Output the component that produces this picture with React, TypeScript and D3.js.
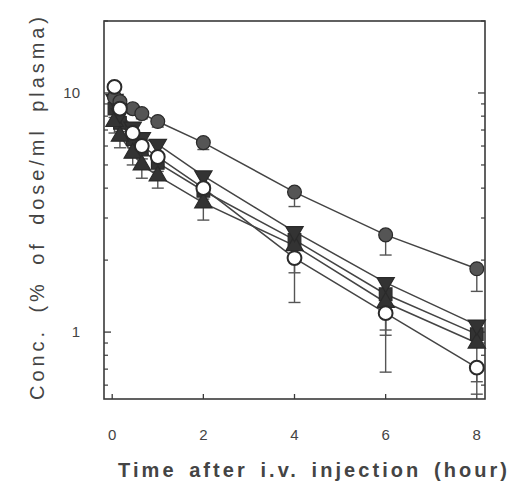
import React from "react";
import * as d3 from "d3";

const times = [0.05, 0.17, 0.45, 0.65, 1, 2, 4, 6, 8];

const filledCircle = [9.6, 9.2, 8.6, 8.2, 7.6, 6.2, 3.85, 2.55, 1.84];
const filledCircleLow = [9.2, 8.8, 8.2, 7.8, 7.2, 5.8, 3.35, 2.1, 1.48];

const openCircle = [10.6, 8.6, 6.8, 6.0, 5.4, 4.0, 2.04, 1.2, 0.71];
const openCircleLow = [10.0, 8.1, 6.3, 5.6, 5.0, 3.7, 1.33, 0.68, 0.55];

const triDown = [9.4, 8.2, 7.2, 6.5, 6.1, 4.5, 2.63, 1.61, 1.07];
const triDownLow = [8.7, 7.6, 6.6, 6.0, 5.6, 4.1, 1.77, 1.02, 0.92];

const squareS = [8.6, 7.5, 6.4, 5.8, 5.1, 3.9, 2.43, 1.44, 0.98];
const squareLow = [7.9, 6.9, 5.9, 5.3, 4.7, 3.6, 2.2, 0.97, 0.88];

const triUp = [7.6, 6.6, 5.6, 5.0, 4.5, 3.47, 2.3, 1.33, 0.9];
const triUpLow = [6.8, 5.9, 5.0, 4.4, 4.0, 2.94, 2.1, 1.2, 0.62];

const xTicks = [0, 2, 4, 6, 8];
const yMajor = [1, 10];
const yMinor = [0.6, 0.7, 0.8, 0.9, 2, 3, 4, 5, 6, 7, 8, 9, 20];

const xTitle = "Time after i.v. injection (hour)";
const yTitle = "Conc. (% of dose/ml plasma)";

const INK = "#3a3a3a";

type Series = {
  vals: number[];
  low: number[];
  shape: "circle" | "triUp" | "triDown" | "square";
  fill: string;
};

export default function App() {
  const W = 519;
  const H = 484;
  const x = d3.scaleLinear().domain([-0.18, 8.18]).range([104, 485]);
  const y = d3.scaleLog().domain([0.525, 20]).range([399, 21]);
  const [x0, x1] = x.range();
  const [y0, y1] = y.range();

  const series: Series[] = [
    { vals: squareS, low: squareLow, shape: "square", fill: "#333" },
    { vals: triUp, low: triUpLow, shape: "triUp", fill: "#333" },
    { vals: triDown, low: triDownLow, shape: "triDown", fill: "#333" },
    { vals: filledCircle, low: filledCircleLow, shape: "circle", fill: "#555" },
    { vals: openCircle, low: openCircleLow, shape: "circle", fill: "#fff" },
  ];

  const line = d3
    .line<number>()
    .x((_, i) => x(times[i]))
    .y((v) => y(v));

  const symPath = (shape: Series["shape"]) => {
    if (shape === "circle") return d3.symbol(d3.symbolCircle, 150)()!;
    if (shape === "square") return d3.symbol(d3.symbolSquare, 160)()!;
    return d3.symbol(d3.symbolTriangle, 130)()!;
  };

  return (
    <svg width={W} height={H} style={{ position: "absolute", left: 0, top: 0 }}>
      <rect x={0} y={0} width={W} height={H} fill="#fff" />
      <rect x={x0} y={y1} width={x1 - x0} height={y0 - y1} fill="none" stroke={INK} strokeWidth={1.6} />
      {xTicks.map((t) => (
        <g key={"xt" + t}>
          <line x1={x(t)} x2={x(t)} y1={y0} y2={y0 - 5} stroke={INK} strokeWidth={1.3} />
          <text
            x={x(t)}
            y={440}
            textAnchor="middle"
            fontFamily="Liberation Sans, Arial, sans-serif"
            fontSize={15}
            fill="#444"
          >
            {t}
          </text>
        </g>
      ))}
      {yMajor.map((v) => (
        <g key={"ym" + v}>
          <line x1={x0} x2={x0 + 7} y1={y(v)} y2={y(v)} stroke={INK} strokeWidth={1.3} />
          <line x1={x1} x2={x1 - 7} y1={y(v)} y2={y(v)} stroke={INK} strokeWidth={1.3} />
          <text
            x={80}
            y={y(v) + 5}
            textAnchor="end"
            fontFamily="Liberation Sans, Arial, sans-serif"
            fontSize={15}
            fill="#444"
          >
            {v}
          </text>
        </g>
      ))}
      {yMinor.map((v) => (
        <g key={"yn" + v}>
          <line x1={x0} x2={x0 + 4} y1={y(v)} y2={y(v)} stroke={INK} strokeWidth={1.2} />
          <line x1={x1} x2={x1 - 4} y1={y(v)} y2={y(v)} stroke={INK} strokeWidth={1.2} />
        </g>
      ))}
      {series.map((s, k) => (
        <path key={"l" + k} d={line(s.vals)!} fill="none" stroke="#444" strokeWidth={1.5} />
      ))}
      {series.map((s, k) =>
        s.vals.map((v, i) => (
          <g key={"e" + k + "-" + i} stroke="#555" strokeWidth={1.4}>
            <line x1={x(times[i])} x2={x(times[i])} y1={y(v)} y2={y(s.low[i])} />
            <line x1={x(times[i]) - 6} x2={x(times[i]) + 6} y1={y(s.low[i])} y2={y(s.low[i])} />
          </g>
        ))
      )}
      {series.map((s, k) =>
        s.vals.map((v, i) => (
          <path
            key={"m" + k + "-" + i}
            d={symPath(s.shape)}
            transform={`translate(${x(times[i])},${y(v)})${s.shape === "triDown" ? " rotate(180)" : ""}`}
            fill={s.fill}
            stroke="#2a2a2a"
            strokeWidth={s.fill === "#fff" ? 2 : 1.2}
          />
        ))
      )}
      <text
        x={118}
        y={477}
        textLength={389}
        lengthAdjust="spacing"
        fontFamily="Liberation Sans, Arial, sans-serif"
        fontSize={20}
        fontWeight="bold"
        wordSpacing={4}
        fill="#444"
      >
        {xTitle}
      </text>
      <text
        transform={`translate(44,${(17 + 400) / 2}) rotate(-90)`}
        textAnchor="middle"
        textLength={383}
        lengthAdjust="spacing"
        fontFamily="Liberation Sans, Arial, sans-serif"
        fontSize={20}
        wordSpacing={6}
        fill="#444"
      >
        {yTitle}
      </text>
    </svg>
  );
}
